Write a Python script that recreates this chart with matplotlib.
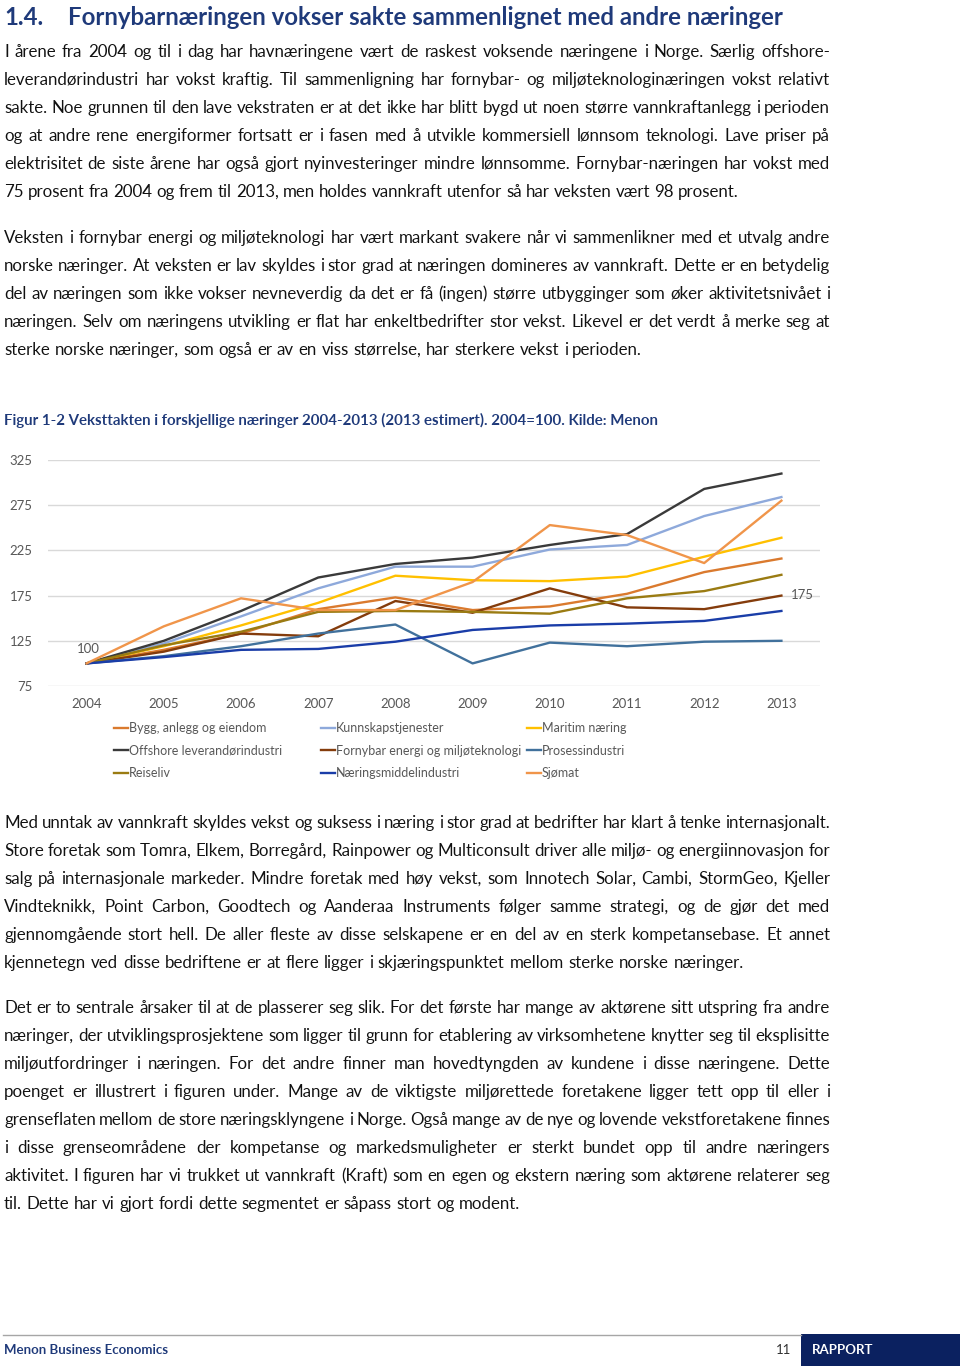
import matplotlib
matplotlib.use('Agg')
import matplotlib.pyplot as plt
from matplotlib.lines import Line2D
from matplotlib.patches import Rectangle

plt.rcParams['font.family'] = 'Lato'
# autohinting shifts words with a lone "ø" off the baseline
plt.rcParams['text.hinting'] = 'native'

W, H = 960, 1366

# chart data (index, 2004 = 100)
years = ['2004', '2005', '2006', '2007', '2008', '2009', '2010', '2011', '2012', '2013']
bygg = [100, 115, 133, 160, 173, 159, 163, 177, 201, 216]
kunnskap = [100, 122, 152, 183, 207, 207, 226, 231, 263, 284]
maritim = [100, 119, 142, 167, 197, 192, 191, 196, 218, 239]
offshore = [100, 125, 158, 195, 210, 217, 231, 243, 293, 310]
fornybar = [100, 113, 133, 130, 169, 156, 183, 162, 160, 175]
prosess = [100, 108, 119, 133, 143, 100, 123, 119, 124, 125]
reiseliv = [100, 120, 135, 157, 158, 157, 155, 172, 180, 198]
naeringsmiddel = [100, 107, 115, 116, 124, 137, 142, 144, 147, 158]
sjomat = [100, 141, 172, 159, 159, 190, 253, 242, 211, 280]

series_names = ['Bygg, anlegg og eiendom', 'Kunnskapstjenester', 'Maritim næring',
                'Offshore leverandørindustri', 'Fornybar energi og miljøteknologi',
                'Prosessindustri', 'Reiseliv', 'Næringsmiddelindustri', 'Sjømat']
series_vals = [bygg, kunnskap, maritim, offshore, fornybar, prosess, reiseliv,
               naeringsmiddel, sjomat]
colors = ['#DA7A2E', '#8EA9DB', '#FFC000', '#3A3A3A', '#843C0C',
          '#41719C', '#9A7B12', '#1A3DA8', '#F0954A']
yticks = [75, 125, 175, 225, 275, 325]

# page text, one entry per line: (text, right edge in px)
para1 = [
    ("I årene fra 2004 og til i dag har havnæringene vært de raskest voksende næringene i Norge. Særlig offshore-", 830),
    ("leverandørindustri har vokst kraftig. Til sammenligning har fornybar- og miljøteknologinæringen vokst relativt", 830),
    ("sakte. Noe grunnen til den lave vekstraten er at det ikke har blitt bygd ut noen større vannkraftanlegg i perioden", 830),
    ("og at andre rene energiformer fortsatt er i fasen med å utvikle kommersiell lønnsom teknologi. Lave priser på", 830),
    ("elektrisitet de siste årene har også gjort nyinvesteringer mindre lønnsomme. Fornybar-næringen har vokst med", 830),
    ("75 prosent fra 2004 og frem til 2013, men holdes vannkraft utenfor så har veksten vært 98 prosent.", 739),
]
para2 = [
    ("Veksten i fornybar energi og miljøteknologi har vært markant svakere når vi sammenlikner med et utvalg andre", 830),
    ("norske næringer. At veksten er lav skyldes i stor grad at næringen domineres av vannkraft. Dette er en betydelig", 830),
    ("del av næringen som ikke vokser nevneverdig da det er få (ingen) større utbygginger som øker aktivitetsnivået i", 830),
    ("næringen. Selv om næringens utvikling er flat har enkeltbedrifter stor vekst. Likevel er det verdt å merke seg at", 830),
    ("sterke norske næringer, som også er av en viss størrelse, har sterkere vekst i perioden.", 642),
]
para3 = [
    ("Med unntak av vannkraft skyldes vekst og suksess i næring i stor grad at bedrifter har klart å tenke internasjonalt.", 830),
    ("Store foretak som Tomra, Elkem, Borregård, Rainpower og Multiconsult driver alle miljø- og energiinnovasjon for", 830),
    ("salg på internasjonale markeder. Mindre foretak med høy vekst, som Innotech Solar, Cambi, StormGeo, Kjeller", 830),
    ("Vindteknikk, Point Carbon, Goodtech og Aanderaa Instruments følger samme strategi, og de gjør det med", 830),
    ("gjennomgående stort hell. De aller fleste av disse selskapene er en del av en sterk kompetansebase. Et annet", 830),
    ("kjennetegn ved disse bedriftene er at flere ligger i skjæringspunktet mellom sterke norske næringer.", 744),
]
para4 = [
    ("Det er to sentrale årsaker til at de plasserer seg slik. For det første har mange av aktørene sitt utspring fra andre", 830),
    ("næringer, der utviklingsprosjektene som ligger til grunn for etablering av virksomhetene knytter seg til eksplisitte", 830),
    ("miljøutfordringer i næringen. For det andre finner man hovedtyngden av kundene i disse næringene. Dette", 830),
    ("poenget er illustrert i figuren under. Mange av de viktigste miljørettede foretakene ligger tett opp til eller i", 830),
    ("grenseflaten mellom de store næringsklyngene i Norge. Også mange av de nye og lovende vekstforetakene finnes", 830),
    ("i disse grenseområdene der kompetanse og markedsmuligheter er sterkt bundet opp til andre næringers", 830),
    ("aktivitet. I figuren har vi trukket ut vannkraft (Kraft) som en egen og ekstern næring som aktørene relaterer seg", 830),
    ("til. Dette har vi gjort fordi dette segmentet er såpass stort og modent.", 520),
]

navy = '#1F3A7A'
body_size = 12.2

fig = plt.figure(figsize=(W / 100, H / 100), dpi=100)
renderer = fig.canvas.get_renderer()


def fx(x):
    return x / W


def fy(y):
    return 1 - y / H


def justify(line, x1, y, x0=4, size=body_size):
    # spread the words of one line between x0 and x1, all on one baseline
    words = line.split(' ')
    widths = []
    for w in words:
        t = fig.text(0, 0, w, fontsize=size)
        widths.append(t.get_window_extent(renderer).width)
        t.remove()
    gap = (x1 - x0 - sum(widths)) / max(len(words) - 1, 1)
    x = x0
    for w, wd in zip(words, widths):
        fig.text(fx(x), fy(y + 5), w, fontsize=size, va='baseline', color='#111111')
        x += wd + gap


def paragraph(lines, y_first, step=28):
    for i, (txt, x1) in enumerate(lines):
        justify(txt, x1, y_first + i * step)


# heading
fig.text(fx(4), fy(25), '1.4.', fontsize=17.3, fontweight='bold', color=navy, va='baseline')
fig.text(fx(68), fy(25), 'Fornybarnæringen vokser sakte sammenlignet med andre næringer',
         fontsize=17.3, fontweight='bold', color=navy, va='baseline')

paragraph(para1, 52)
paragraph(para2, 238)
paragraph(para3, 823)
paragraph(para4, 1008)

# figure caption
fig.text(fx(4), fy(425), 'Figur 1-2 Veksttakten i forskjellige næringer 2004-2013 (2013 estimert). 2004=100. Kilde: Menon',
         fontsize=10.85, fontweight='bold', color=navy, va='baseline')

# chart
ax = fig.add_axes([fx(48), fy(686), fx(820) - fx(48), fy(460) - fy(686)])
xs = list(range(len(years)))
for name, vals, c in zip(series_names, series_vals, colors):
    ax.plot(xs, vals, color=c, lw=1.7, label=name, solid_joinstyle='round')

ax.set_xlim(-0.5, len(years) - 0.5)
ax.set_ylim(75, 325)
ax.set_yticks(yticks)
ax.set_xticks(xs)
ax.set_xticklabels(years)
ax.grid(axis='y', color='#D9D9D9', lw=1)
ax.set_axisbelow(True)
for s in ax.spines.values():
    s.set_visible(False)
ax.tick_params(axis='y', length=0, pad=11, labelsize=9.5, labelcolor='#595959')
ax.tick_params(axis='x', length=0, pad=8.5, labelsize=9.5, labelcolor='#595959')

# data labels
ax.annotate(str(fornybar[0]), (0, fornybar[0]), xytext=(2, 14), textcoords='offset pixels',
            ha='center', va='center', fontsize=9.5, color='#595959')
ax.annotate(str(fornybar[-1]), (len(years) - 1, fornybar[-1]), xytext=(21, 1), textcoords='offset pixels',
            ha='center', va='center', fontsize=9.5, color='#595959')

# legend: three columns with equal widths as in the source
col_x = [114, 321, 527]
for col in range(3):
    idx = [col, col + 3, col + 6]
    handles = [Line2D([], [], color=colors[i], lw=1.7) for i in idx]
    labels = [series_names[i] for i in idx]
    fig.legend(handles, labels, loc='upper left', bbox_to_anchor=(fx(col_x[col]), fy(722)),
               frameon=False, fontsize=9, handlelength=1.1, handletextpad=0.1,
               labelspacing=0.85, borderpad=0, borderaxespad=0, labelcolor='#595959')

# footer
fig.add_artist(Line2D([fx(3), fx(801)], [fy(1335), fy(1335)], color='#A6A6A6', lw=1))
fig.add_artist(Rectangle((fx(801), 0), 1 - fx(801), fy(1334), color='#0B2160', lw=0))
fig.text(fx(4), fy(1350), 'Menon Business Economics', fontsize=9.5, fontweight='bold',
         color=navy, va='center')
fig.text(fx(784), fy(1350), '11', fontsize=9.5, color='#333333', va='center', ha='center')
fig.text(fx(812), fy(1350), 'RAPPORT', fontsize=9.5, fontweight='bold', color='white', va='center')

fig.savefig('out.png', dpi=100)
